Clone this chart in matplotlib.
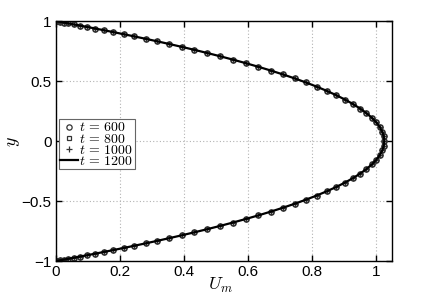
import numpy as np
import matplotlib
matplotlib.use("Agg")
import matplotlib.pyplot as plt

plt.rcParams["mathtext.fontset"] = "cm"
plt.rcParams["font.family"] = ["Liberation Sans", "DejaVu Sans"]

# wall-normal coordinate (Chebyshev points)
y_pts = [1.0, 0.9992, 0.9969, 0.9931, 0.9877, 0.9808, 0.9724, 0.9625, 0.9511,
         0.9382, 0.9239, 0.9081, 0.8910, 0.8725, 0.8526, 0.8315, 0.8090,
         0.7853, 0.7604, 0.7343, 0.7071, 0.6788, 0.6494, 0.6191, 0.5878,
         0.5556, 0.5225, 0.4886, 0.4540, 0.4187, 0.3827, 0.3461, 0.3090,
         0.2714, 0.2334, 0.1951, 0.1564, 0.1175, 0.0785, 0.0393, 0.0,
         -0.0393, -0.0785, -0.1175, -0.1564, -0.1951, -0.2334, -0.2714,
         -0.3090, -0.3461, -0.3827, -0.4187, -0.4540, -0.4886, -0.5225,
         -0.5556, -0.5878, -0.6191, -0.6494, -0.6788, -0.7071, -0.7343,
         -0.7604, -0.7853, -0.8090, -0.8315, -0.8526, -0.8725, -0.8910,
         -0.9081, -0.9239, -0.9382, -0.9511, -0.9625, -0.9724, -0.9808,
         -0.9877, -0.9931, -0.9969, -0.9992, -1.0]

# mean velocity profile; all four times lie on the same curve
u_profile = [0.0, 0.0016, 0.0063, 0.0142, 0.0251, 0.0390, 0.0559, 0.0755,
             0.0979, 0.1228, 0.1501, 0.1797, 0.2113, 0.2447, 0.2798, 0.3164,
             0.3541, 0.3929, 0.4323, 0.4723, 0.5125, 0.5527, 0.5927, 0.6321,
             0.6709, 0.7086, 0.7452, 0.7803, 0.8137, 0.8453, 0.8749, 0.9022,
             0.9271, 0.9495, 0.9691, 0.9860, 0.9999, 1.0108, 1.0187, 1.0234,
             1.025,
             1.0234, 1.0187, 1.0108, 0.9999, 0.9860, 0.9691, 0.9495, 0.9271,
             0.9022, 0.8749, 0.8453, 0.8137, 0.7803, 0.7452, 0.7086, 0.6709,
             0.6321, 0.5927, 0.5527, 0.5125, 0.4723, 0.4323, 0.3929, 0.3541,
             0.3164, 0.2798, 0.2447, 0.2113, 0.1797, 0.1501, 0.1228, 0.0979,
             0.0755, 0.0559, 0.0390, 0.0251, 0.0142, 0.0063, 0.0016, 0.0]
u_600 = u_profile
u_800 = u_profile
u_1000 = u_profile
u_1200 = u_profile

x_ticks = [0, 0.2, 0.4, 0.6, 0.8, 1]
x_labels = ["0", "0.2", "0.4", "0.6", "0.8", "1"]
y_ticks = [-1, -0.5, 0, 0.5, 1]
y_labels = ["\u22121", "\u22120.5", "0", "0.5", "1"]

fig = plt.figure(figsize=(4.33, 2.93), dpi=100)
ax = fig.add_axes([0.129, 0.109, 0.777, 0.819])

ms = 3.8
ax.plot(u_600, y_pts, "o", mfc="none", mec="0.2", ms=ms, mew=0.9,
        label="$t\\,=\\,600$")
ax.plot(u_800, y_pts, "s", mfc="none", mec="0.2", ms=ms - 0.6, mew=0.9,
        label="$t\\,=\\,800$")
ax.plot(u_1000, y_pts, "+", color="0.2", ms=ms, mew=0.9,
        label="$t\\,=\\,1000$")
ax.plot(u_1200, y_pts, "-", color="black", lw=1.6,
        label="$t\\,=\\,1200$")

ax.set_xlim(0, 1.05)
ax.set_ylim(-1, 1)
ax.set_xticks(x_ticks)
ax.set_xticklabels(x_labels)
ax.set_yticks(y_ticks)
ax.set_yticklabels(y_labels)
ax.tick_params(direction="in", length=4, width=1, labelsize=11,
               top=True, right=True, pad=3)
for sp in ax.spines.values():
    sp.set_linewidth(1.0)
ax.grid(True, linestyle=(0, (1, 2)), color="0.7", linewidth=0.8)

ax.set_xlabel("$U_m$", fontsize=13)
ax.set_ylabel("$y$", fontsize=13)
ax.xaxis.set_label_coords(0.49, -0.06)
ax.yaxis.set_label_coords(-0.10, 0.5)

leg = ax.legend(loc="upper left", bbox_to_anchor=(0.008, 0.592),
                fontsize=10, frameon=True, fancybox=False, framealpha=1,
                borderpad=0.1, labelspacing=-0.2, handlelength=1.3,
                handletextpad=0.1, borderaxespad=0)
leg.get_frame().set_edgecolor("0.4")
leg.get_frame().set_linewidth(0.8)

fig.savefig("out.png", dpi=100)
